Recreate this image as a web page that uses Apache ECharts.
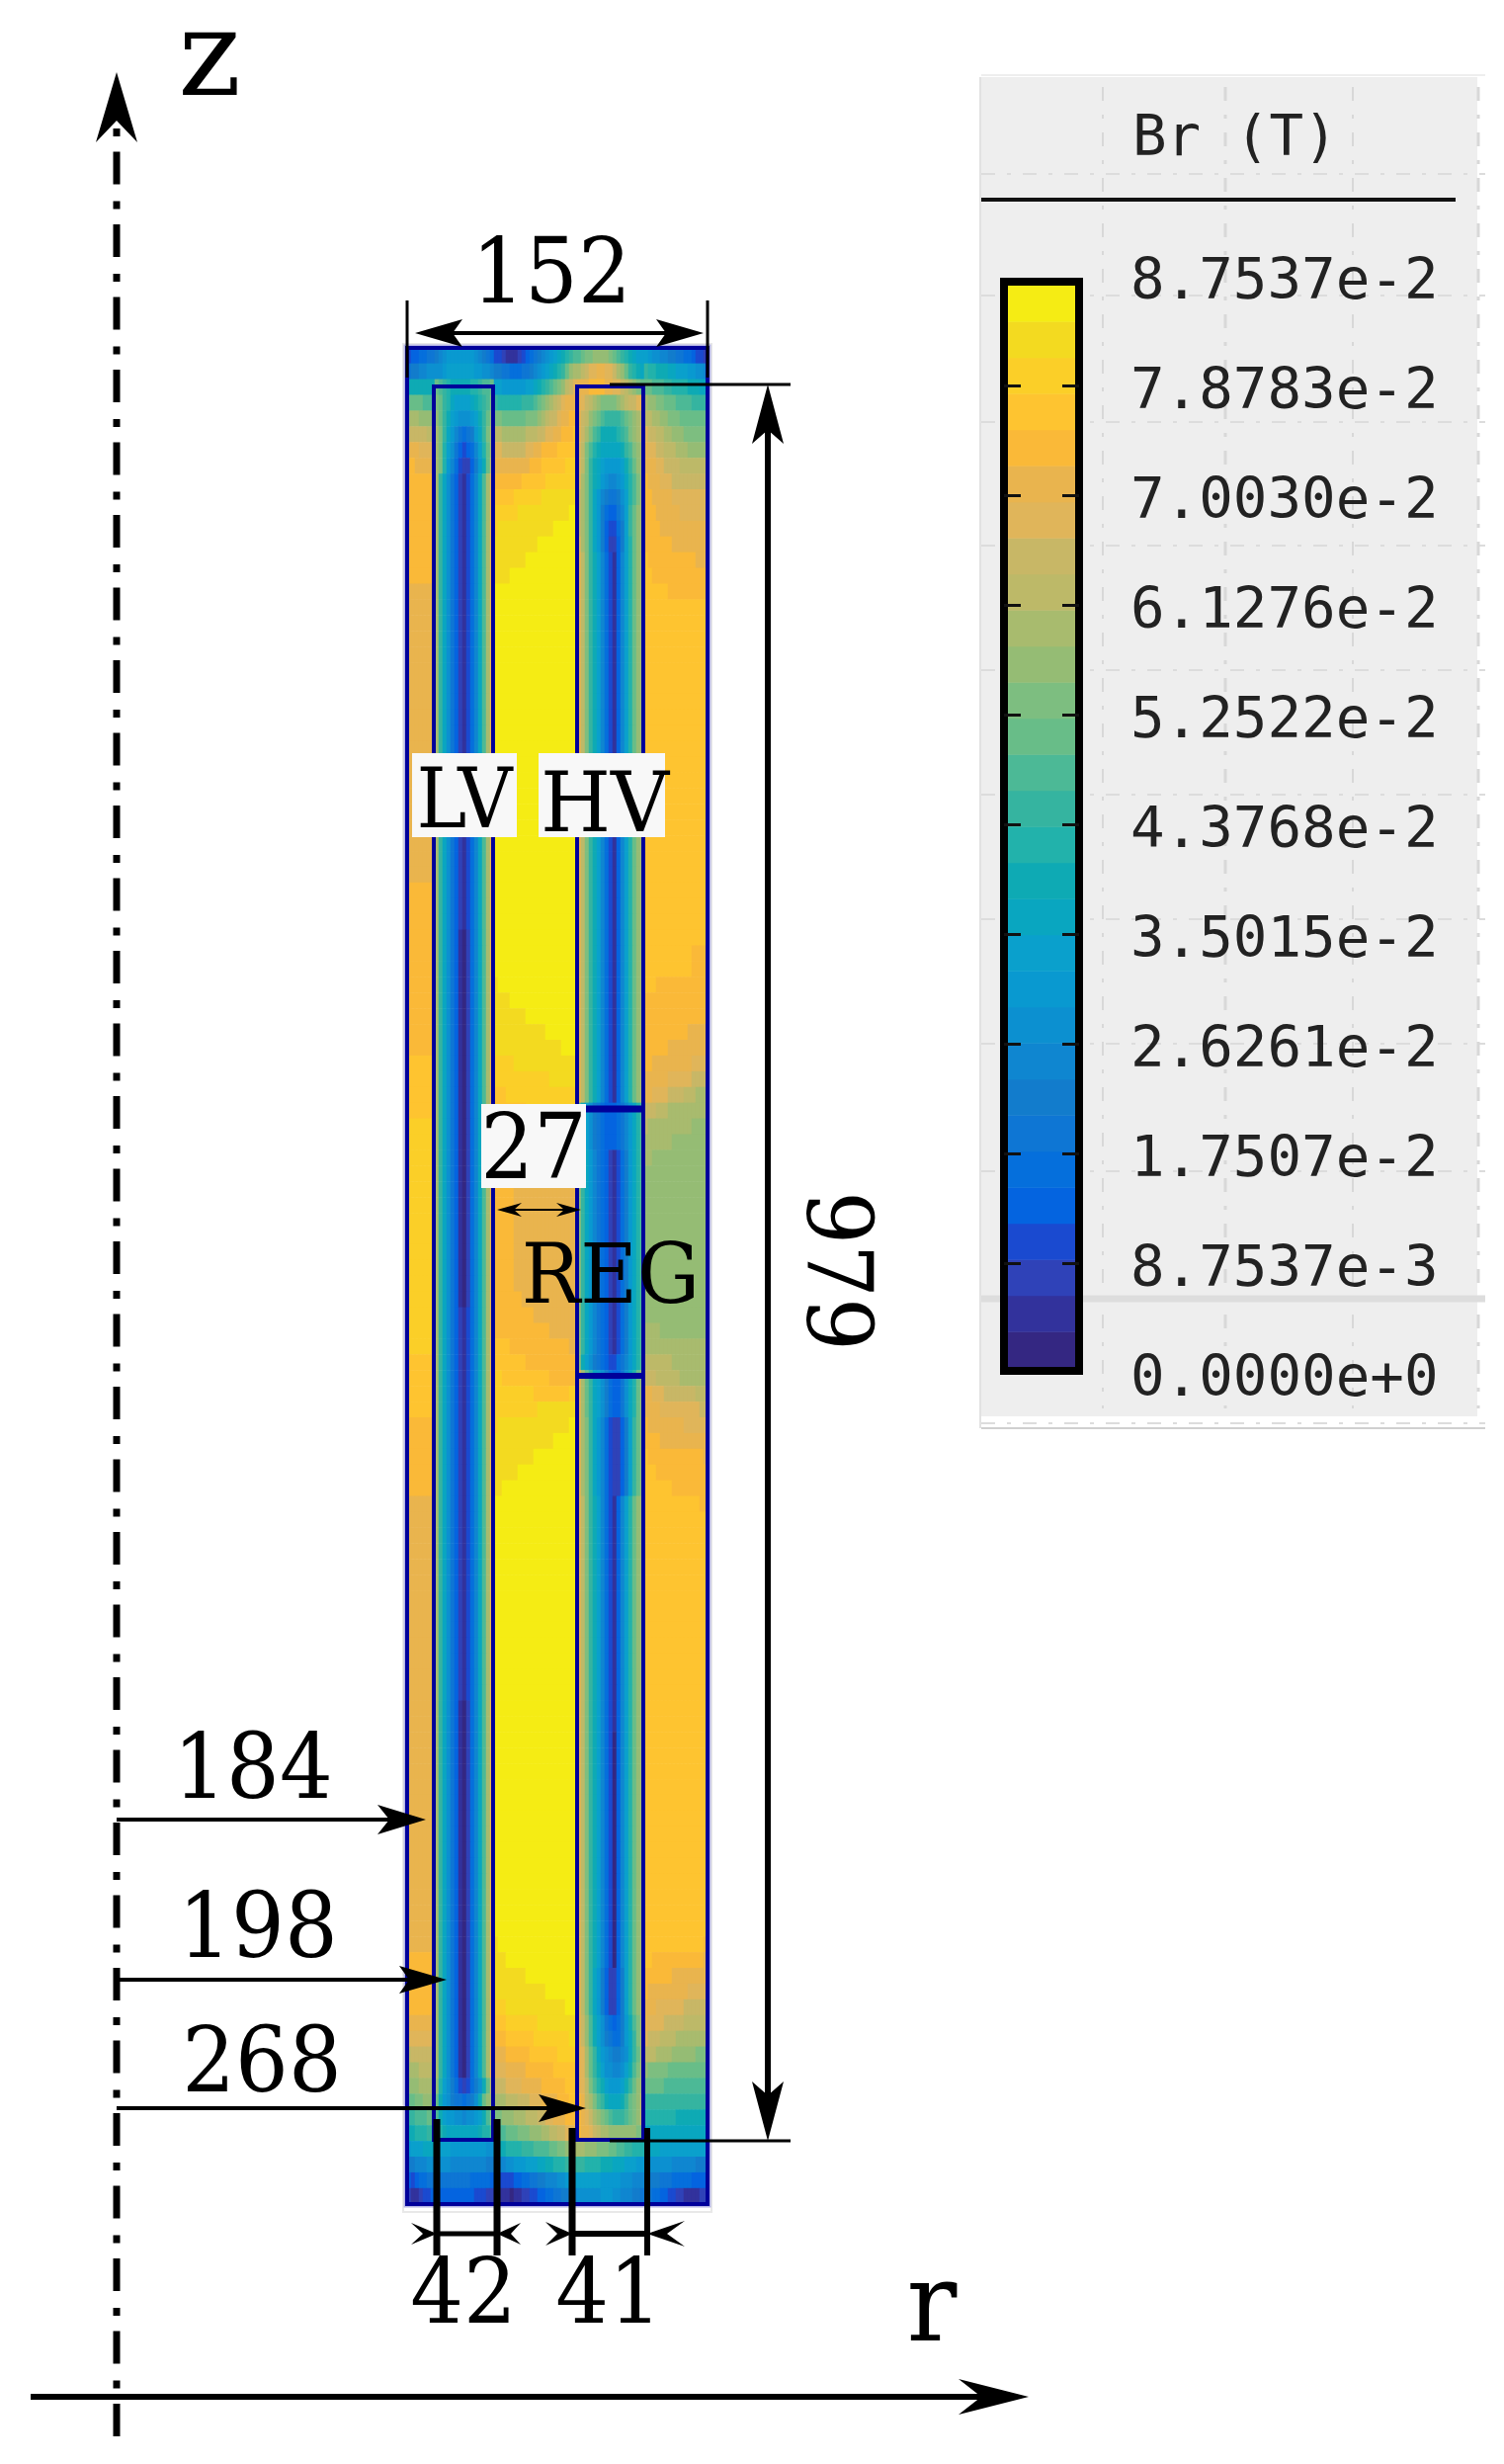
<!DOCTYPE html>
<html>
<head>
<meta charset="utf-8">
<title>Br (T)</title>
<script src="https://cdn.jsdelivr.net/npm/echarts@6/dist/echarts.min.js"></script>
<style>
html, body { margin: 0; padding: 0; background: #fff; }
#chart { width: 1522px; height: 2493px; }
</style>
</head>
<body>
<div id="chart"></div>
<script>
// colour classes of the legend, bottom (0) to top (29)
var levelColors = [
    '#342782', '#32329c', '#2f42b8', '#1a4ad0', '#0464e0', '#056fdc', '#0e76d4', '#127ccc', '#0f86d0', '#0c90d0',
    '#0999d0', '#0aa0cc', '#09a6c0', '#0eaab4', '#22b2ab', '#35b4a0', '#4cb996', '#68bd88', '#7dbe80', '#95bc74',
    '#a8bb6e', '#bdb968', '#c8b766', '#e0b55a', '#e9b44e', '#fab938', '#fec430', '#fbcf28', '#f3da20', '#f5ec14'
];
var tickLabels = ['0.0000e+0', '8.7537e-3', '1.7507e-2', '2.6261e-2', '3.5015e-2', '4.3768e-2',
    '5.2522e-2', '6.1276e-2', '7.0030e-2', '7.8783e-2', '8.7537e-2'];
var legendTitle = 'Br (T)';

// Each entry: [rows it covers, columns]. Rows run from the top of the box down.
var outerLeftBands = [
    [1, '3445566'], [1, '6778899'], [1, 'ddddddd'], [1, 'hhhhggg'], [1, 'kkkjjjj'], [1, 'mmmmmll'],
    [1, 'ooonnnn'], [1, 'ppooooo'], [7, 'ppppppp'], [19, 'ooooooo'], [11, 'ppppppp'], [4, 'qqqqqqq'],
    [15, 'rrrrrrr'], [4, 'qqqqqqq'], [5, 'ppppppp'], [29, 'ooooooo'], [4, 'ppppppp'],
    [1, 'ooooooo'], [1, 'nnnnnnn'], [1, 'lmmmmmm'], [1, 'kkkllll'], [1, 'jjjkkkk'], [1, 'hhiijjj'],
    [1, 'ffggghh'], [1, 'ddeeeff'], [1, 'abbbccc'], [1, '7788899'], [1, '4345566'], [1, '2112334']
];
var lvBands = [
    [1, '789aa aaaaa 98765'], [1, '99abb bbbbb aa998'], [1, 'hgfed dddde efggh'], [1, 'ihfec bbbbc defgi'],
    [1, 'jhfdb a999a bdfhj'], [1, 'kifca 86567 acfik'], [1, 'kieb9 64345 8behk'], [1, 'kiea8 53224 7adhl'],
    [1, 'kfc96 42135 8cgkn'],
    [28, 'kfc96 42135 8cgko'], [24, 'kfc96 41025 8cgko'], [25, 'kfc96 42135 8cgko'], [24, 'kfc96 41025 8cgko'],
    [1, 'jeb97 53235 79dhl'], [1, 'hda97 66567 9dhjk'], [1, 'gdbaa 99899 abdgi'], [1, 'gedcc ccccc cdeeg'],
    [1, 'bbbba aaaaa aaa99'], [1, '99998 88888 88877'], [1, '66666 66665 55554'], [1, '44444 44444 33322']
];
var gapBands = [
    [1, '33211 12345 6789a bcdef g'], [1, '77665 55667 89abc defhj k'], [1, 'bbaaa aaabb cdefg hijlm n'],
    [1, 'feeee eefff ghijk lmnoo o'], [1, 'iihhh hhhii ijklm mnoop p'], [1, 'llkkk kkkll lmmnn ooppp q'],
    [1, 'nnmmm mmmnn ooppp pqqqq q'], [1, 'ooooo oooop ppqqq qqqrr r'], [1, 'ppppp ppqqq qqqrr rrrrr r'],
    [1, 'qqqqq rrrrr rrsss sssss s'], [1, 'rrrrr rssss sssss sssst t'], [1, 'rssss sssss sssss ttttt t'],
    [1, 'sssss sssss stttt ttttt t'], [1, 'sssss ssstt ttttt ttttt t'], [1, 'sssst ttttt ttttt ttttt t'],
    [25, 'ttttt ttttt ttttt ttttt t'],
    [1, 'stttt ttttt ttttt ttttt t'], [1, 'sssst ttttt ttttt ttttt t'], [1, 'sssss ssstt ttttt ttttt t'],
    [1, 'sssss sssss ssstt ttttt t'], [1, 'sssss sssss sssss sstttt'], [1, 'rrrrr sssss sssss sssss s'],
    [1, 'rrrrr rrrrr rrrrs sssss s'], [1, 'qqqrr rrrrr rrrrr rrrrr r'], [1, 'qqqqq qqqrr rrrrr rrrrr r'],
    [1, 'ppppq qqqqq qqqqr rrrrr r'], [1, 'ppppp pqqqq qqqqq qqrrr r'], [1, 'ppppp pppqq qqqqq qqqrr r'],
    [1, 'ppppp ooooo opppp ppqqq q'], [7, 'ppppp ooooo ooooo ooooo o'], [1, 'ppppp ppooo ooooo ooooo o'],
    [1, 'ppppp ppppp ooooo ooooo o'], [1, 'ppppp ppppp ppppo ooooo o'], [1, 'qqqqp ppppp ppppp ppppo o'],
    [1, 'qqqqq qqqpp ppppp ppppp p'], [1, 'rrqqq qqqqq qqqqp ppppp p'], [1, 'rrrrr rrrrr qqqqq qqqqr r'],
    [1, 'rrrrr rrrrr rssss sssss s'], [1, 'rssss sssss sssss sssstt'], [1, 'sssss sssss sssss ttttt t'],
    [1, 'sssss sssss ttttt ttttt t'], [1, 'sssss stttt ttttt ttttt t'], [1, 'ssttt ttttt ttttt ttttt t'],
    [28, 'ttttt ttttt ttttt ttttt t'],
    [1, 'stttt ttttt ttttt ttttt t'], [1, 'ssstt ttttt ttttt ttttt t'], [1, 'sssss ssstt ttttt ttttt t'],
    [1, 'sssss sssss ssstt ttttt t'], [1, 'rrrss sssss sssss ssstt t'], [1, 'qqqrr rrrrr rssss sssss s'],
    [1, 'pppqq qqqqq rrrrr rrrrs s'], [1, 'ooopp ppppq qqqqq qrrrr r'], [1, 'nnnoo ooopp ppppp qqqqq q'],
    [1, 'mmmnn nnooo ooppp pppqq q'], [1, 'kkkll lmmmn nnooo opppq q'], [1, 'iijjj kkkll lmmnn ooopp p'],
    [1, 'ggghh hiiij jjkkl lmmnn o'], [1, 'dddee eefff ggggh hiijj k'], [1, '88899 aaabb bccdd eeeff f'],
    [1, '43333 44556 67788 899aa b'], [1, '21110 11223 34455 66778 8']
];
var hvBands = [
    [1, 'ghiij jjjih gfedc bb'], [1, 'klmnn oonnm kjhfe dc'], [1, 'ooopp ppoon nmlkj ih'], [1, 'onmlk jiiii jklmm no'],
    [1, 'omlji hgfff fghij kl'], [1, 'omkig fdddd efgij kl'], [1, 'nlige dcccc cdfgi jk'], [1, 'nlifd cbaaa abdfh jk'],
    [1, 'nkifd ca988 9aceg ik'], [1, 'mkifc a8766 79beg ik'], [1, 'mkifc a7544 68bfh jk'],
    [1, 'mkifc a7433 57bfh jk'], [1, 'nkifc a7422 47beh jk'],
    [35, 'olifd b8531 48beh jk'],
    [3, 'gdb97 65444 568ac eg'], [13, 'jfca8 65421 357ac eg'], [1, 'jdb97 65433 568ac eg'],
    [3, 'okhfc b9754 469ce hj'], [5, 'okifc a8532 247bf hj'],
    [15, 'olifd b8531 48beh jk'], [15, 'olifd b8530 48beh jk'],
    [3, 'olifc a7422 47beh jk'],
    [1, 'omjgd b9654 57adg ik'], [1, 'omjgd b9765 57acf ik'], [1, 'onkhf ca987 789cf hk'], [1, 'onkhf db998 89bdg ik'],
    [1, 'onlig edbaa abdfh jk'], [1, 'polki gfdcc cdfhi jl'], [1, 'ponmk jihgf ffghi jl'], [1, 'poonm lkkjj jjjjj ii'],
    [1, 'kkjjj iiihh ggffe ee'], [1, 'ffeee edddc ccbbb aa'], [1, 'bbbbb baaaa a9998 88'], [1, '99999 9aaa9 98887 76']
];
var outerRightBands = [
    [1, 'ba998877 66554332'], [1, 'feedddcc bbbaa998'], [1, 'hhgggffe eeedddcc'], [1, 'kjjiihhh ggggffff'],
    [1, 'llkkjjii ihhhhhhh'], [1, 'nmmllkkj jjiiiiii'], [1, 'onnmmlll kkkjjjjj'], [1, 'ooonnmmm mlllllll'],
    [1, 'pooonnnm mmmmmmmm'], [1, 'ppooooon nnnnnnnn'], [1, 'pppooooo onnnnnnn'], [1, 'ppppoooo oooooooo'],
    [1, 'pppppppo oooooooo'], [1, 'qppppppp pppppooo'], [1, 'qqpppppp pppppppp'], [1, 'qqqqqqpp pppppppp'],
    [22, 'qqqqqqqq qqqqqqqq'], [2, 'qqqqqqqq qqqqpppp'], [1, 'qqqppppp pppppppp'], [2, 'pppppppp pppppppp'],
    [1, 'pppppppp pppooooo'], [1, 'ppppppoo oooooooo'], [1, 'ppoooooo oooonnnn'], [1, 'oooooonn nnnnmmmm'],
    [1, 'oonnnnmm mmlllkkk'], [1, 'mmmlllkk kkkkkkkk'], [1, 'lkkkkkkk kkkkjjjj'], [1, 'kkkkkkkj jjjjjjjj'],
    [1, 'kkjjjjjj jjjjjjjj'], [10, 'jjjjjjjj jjjjjjjj'], [1, 'kkkkjjjj jjjjjjjj'],
    [1, 'kkkkkkkk kkkkkkkk'], [1, 'lllllllk kkkkkkkk'], [1, 'mmmlllll lkkkkkkk'], [1, 'oonnnmmm mmmmmlll'],
    [1, 'oooonnnn nnnnnnmm'], [1, 'pooooooo oonnnnnn'], [1, 'ppppoooo oooooooo'], [1, 'qppppppp pppppppo'],
    [1, 'qqqppppp pppppppp'], [1, 'qqqqqqqp pppppppp'], [1, 'qqqqqqqq qqqqqqpp'],
    [27, 'qqqqqqqq qqqqqqqq'],
    [1, 'qqqqqqqq qqqqqqqp'], [1, 'qqpppppp pppppppo'], [1, 'pppppppo oooooooo'], [1, 'pooooooo ooonnnnn'],
    [1, 'ooonnnnn nnmmmmmm'], [1, 'onnnnmmm mmllllll'], [1, 'nmmmllll kkkkkkkk'], [1, 'lllkkkkj jjjjjiii'],
    [1, 'jiiiiihh hhhhhhhh'], [1, 'hhhhhggg gggggggg'], [1, 'ffffffff ffffffff'], [1, 'eeeeeeee dddddddd'],
    [1, 'cccccccc cccccccc'], [1, 'dcccbbbb bbbbbbbb'], [1, 'a9999998 88888777'], [1, '87776665 55554444'],
    [1, '66554433 22111122']
];
var zones = [outerLeftBands, lvBands, gapBands, hvBands, outerRightBands];

// unroll the zones into heatmap cells
var fieldData = [];
var colCount = 0, rowCount = 0;
zones.forEach(function (bands) {
    var row = 0, width = 0;
    bands.forEach(function (band) {
        var chars = band[1].replace(/ /g, '');
        width = chars.length;
        for (var n = 0; n < band[0]; n++) {
            for (var c = 0; c < chars.length; c++) {
                fieldData.push([colCount + c, row, parseInt(chars[c], 30)]);
            }
            row++;
        }
    });
    colCount += width;
    rowCount = Math.max(rowCount, row);
});
var colNames = [], rowNames = [], levelNames = [], barData = [];
for (var i = 0; i < colCount; i++) colNames.push(String(i));
for (var j = 0; j < rowCount; j++) rowNames.push(String(j));
levelColors.forEach(function (c, k) {
    levelNames.push(String(k));
    barData.push([0, k, k]);
});

// ---- annotation helpers ----
var SERIF = '"DejaVu Serif"';
var MONO = '"DejaVu Sans Mono"';
var ink = '#000';
var wire = '#00009a';

function seg(x1, y1, x2, y2, w, color, dash, z) {
    return {
        type: 'line', z: z || 20, silent: true,
        shape: { x1: x1, y1: y1, x2: x2, y2: y2 },
        style: { stroke: color || ink, lineWidth: w, lineDash: dash || null }
    };
}
function box(x, y, w, h, style, z) {
    return { type: 'rect', z: z, silent: true, shape: { x: x, y: y, width: w, height: h }, style: style };
}
// arrow head: tip, unit direction, length, half width, notch distance from the tip
function head(tx, ty, dx, dy, len, half, notch) {
    var bx = tx - dx * len, by = ty - dy * len;
    var nx = tx - dx * notch, ny = ty - dy * notch;
    return {
        type: 'polygon', z: 21, silent: true,
        shape: { points: [[tx, ty], [bx - dy * half, by + dx * half], [nx, ny], [bx + dy * half, by - dx * half]] },
        style: { fill: ink }
    };
}
function label(str, x, y, size, sx, sy, rot) {
    return {
        type: 'text', z: 22, silent: true, x: x, y: y, scaleX: sx || 1, scaleY: sy || 1, rotation: rot || 0,
        style: { text: str, font: size + 'px ' + SERIF, fill: ink, textAlign: 'center', textVerticalAlign: 'middle' }
    };
}

var art = [];

// legend panel behind the colour bar
art.push(box(993, 78, 502, 1355, { fill: '#eeeeee' }, 0));
[176, 299, 427, 552, 678, 804, 930, 1056, 1185, 1440].forEach(function (y) {
    art.push(seg(993, y, 1503, y, 2, '#dcdcdc', [14, 12, 4, 12], 1));
});
[1116, 1240, 1369, 1496].forEach(function (x) {
    art.push(seg(x, 88, x, 1425, x === 1240 || x === 1496 ? 3 : 2, '#d8d8d8', [14, 14, 4, 14], 1));
});
art.push(seg(993, 1314, 1503, 1314, 7, '#dddddd', null, 1));
art.push(seg(993, 1445, 1503, 1445, 2, '#d0d0d0', null, 1));
art.push(seg(993, 76, 1503, 76, 2, '#eeeeee', null, 1));
art.push(seg(992, 78, 992, 1445, 2, '#e2e2e2', null, 1));
art.push(seg(993, 202, 1473, 202, 4, '#111', null, 3));
art.push({
    type: 'text', z: 4, silent: true, x: 1146, y: 142,
    style: { text: legendTitle, font: '57.5px ' + MONO, fill: '#222', textAlign: 'left', textVerticalAlign: 'middle' }
});
art.push(box(1016, 285, 76, 1102, { fill: 'none', stroke: '#000', lineWidth: 8 }, 5));

// simulation box and windings
art.push(box(408, 348, 312, 1890, { fill: 'none', stroke: '#e8e8e8', lineWidth: 2 }, 1));
art.push(box(412, 352, 304, 1878, { fill: 'none', stroke: '#b6b6e6', lineWidth: 7 }, 1));
art.push(box(412, 352, 304, 1878, { fill: 'none', stroke: wire, lineWidth: 4 }, 10));
art.push(box(439, 391, 60, 1774, { fill: 'none', stroke: wire, lineWidth: 4 }, 10));
art.push(box(584, 391, 67, 1774, { fill: 'none', stroke: wire, lineWidth: 4 }, 10));
art.push(seg(584, 1122, 651, 1122, 7, wire, null, 10));
art.push(seg(584, 1392, 651, 1392, 6, wire, null, 10));

// white plates behind the names
art.push(box(417, 762, 106, 85, { fill: '#f8f8f8' }, 15));
art.push(box(545, 762, 128, 85, { fill: '#f8f8f8' }, 15));
art.push(box(487, 1117, 106, 85, { fill: '#f8f8f8' }, 15));

// z axis, dash-dot centre line
art.push(seg(118, 130, 118, 2466, 7, ink, [8, 15.5, 33, 17], 20));
art.push(head(118, 73, 0, -1, 71, 21, 49));
art.push(label('z', 212, 65, 121, 1, 1));
// r axis
art.push(seg(31, 2425, 1000, 2425, 6));
art.push(head(1041, 2425, 1, 0, 71, 18, 48));
art.push(label('r', 943, 2339, 112, 0.95, 1));

// 152
art.push(seg(412, 304, 412, 382, 3));
art.push(seg(716, 304, 716, 382, 3));
art.push(seg(440, 337, 690, 337, 4));
art.push(head(420, 337, -1, 0, 48, 14, 38));
art.push(head(712, 337, 1, 0, 48, 14, 38));
art.push(label('152', 558, 282, 91, 0.93, 1));

// 979
art.push(seg(617, 389, 800, 389, 3));
art.push(seg(617, 2166, 800, 2166, 3));
art.push(seg(777, 420, 777, 2135, 6));
art.push(head(777, 389, 0, -1, 60, 16, 46));
art.push(head(777, 2166, 0, 1, 60, 16, 46));
art.push(label('979', 841, 1286, 91, 0.93, 1, -Math.PI / 2));

// radii
art.push(seg(118, 1841, 400, 1841, 4));
art.push(head(431, 1841, 1, 0, 49, 15, 37));
art.push(label('184', 256, 1795, 91, 0.93, 1));
art.push(seg(118, 2003, 420, 2003, 4));
art.push(seg(118, 1995, 118, 2011, 6));
art.push(head(452, 2003, 1, 0, 48, 14, 38));
art.push(label('198', 261, 1956, 91, 0.93, 1));
art.push(seg(118, 2133, 560, 2133, 4));
art.push(head(593, 2133, 1, 0, 48, 14, 38));
art.push(label('268', 265, 2092, 91, 0.93, 1));

// winding thickness
art.push(seg(442, 2144, 442, 2282, 7));
art.push(seg(503, 2144, 503, 2282, 7));
art.push(seg(579, 2153, 579, 2282, 7));
art.push(seg(655, 2153, 655, 2282, 6));
art.push(seg(442, 2260, 503, 2260, 5));
art.push(seg(579, 2260, 655, 2260, 6));
art.push(head(442, 2260, 1, 0, 26, 11, 14));
art.push(head(503, 2260, -1, 0, 24, 11, 14));
art.push(head(579, 2260, 1, 0, 27, 12, 15));
art.push(head(655, 2260, -1, 0, 38, 13, 20));
art.push(label('42', 469, 2326, 91, 0.93, 1));
art.push(label('41', 616, 2326, 91, 0.93, 1));

// gap dimension and names
art.push(seg(510, 1224, 582, 1224, 2));
art.push(head(503, 1224, -1, 0, 25, 7, 17));
art.push(head(588, 1224, 1, 0, 25, 7, 17));
art.push(label('27', 540, 1168, 91, 0.93, 1));
art.push(label('LV', 470, 815, 85, 0.9, 1));
art.push(label('HV', 612, 819, 85, 0.96, 1));
art.push(label('REG', 618, 1296, 85, 0.93, 1));

var tickValues = [1, 2, 3, 4, 5, 6, 7, 8, 9];
var labelValues = [0, 1, 2, 3, 4, 5, 6, 7, 8, 9, 10];

var myChart = echarts.init(document.getElementById('chart'), null, { renderer: 'canvas' });
var option = {
    animation: false,
    backgroundColor: '#ffffff',
    grid: [
        { left: 412, top: 352, width: 304, height: 1878 },
        { left: 1020, top: 289, width: 69, height: 1095 },
        { left: 1016, top: 279, width: 76, height: 1110 },
        { left: 1016, top: 287, width: 76, height: 1110 }
    ],
    xAxis: [
        { type: 'category', gridIndex: 0, data: colNames, show: false },
        { type: 'category', gridIndex: 1, data: ['Br'], show: false },
        { type: 'value', gridIndex: 2, min: 0, max: 1, show: false },
        { type: 'value', gridIndex: 3, min: 0, max: 1, show: false }
    ],
    yAxis: [
        { type: 'category', gridIndex: 0, data: rowNames, inverse: true, show: false },
        { type: 'category', gridIndex: 1, data: levelNames, show: false },
        {
            type: 'value', gridIndex: 2, position: 'left', min: 0, max: 10, interval: 1, z: 6,
            axisLine: { show: false }, splitLine: { show: false }, axisLabel: { show: false },
            axisTick: { inside: true, length: 17, lineStyle: { color: '#111', width: 3 }, customValues: tickValues }
        },
        {
            type: 'value', gridIndex: 2, position: 'right', min: 0, max: 10, interval: 1, z: 6,
            axisLine: { show: false }, splitLine: { show: false }, axisLabel: { show: false },
            axisTick: { inside: true, length: 17, lineStyle: { color: '#111', width: 3 }, customValues: tickValues }
        },
        {
            // the printed values sit a little below their ticks
            type: 'value', gridIndex: 3, position: 'right', min: 0, max: 10, interval: 1, z: 6,
            axisLine: { show: false }, splitLine: { show: false }, axisTick: { show: false },
            axisLabel: {
                margin: 52, color: '#222', fontFamily: 'DejaVu Sans Mono', fontSize: 57.5,
                customValues: labelValues, align: 'left', verticalAlign: 'middle',
                formatter: function (v) { return tickLabels[Math.round(v)]; }
            }
        }
    ],
    visualMap: {
        show: false, type: 'continuous', min: 0, max: levelColors.length - 1,
        seriesIndex: [0, 1], inRange: { color: levelColors }
    },
    graphic: { elements: art },
    series: [
        {
            name: 'Br', type: 'heatmap', xAxisIndex: 0, yAxisIndex: 0, data: fieldData,
            progressive: 0, itemStyle: { borderWidth: 0 }, emphasis: { disabled: true }
        },
        {
            name: 'legend', type: 'heatmap', xAxisIndex: 1, yAxisIndex: 1, data: barData,
            progressive: 0, itemStyle: { borderWidth: 0 }, emphasis: { disabled: true }
        }
    ]
};
myChart.setOption(option);
</script>
</body>
</html>
